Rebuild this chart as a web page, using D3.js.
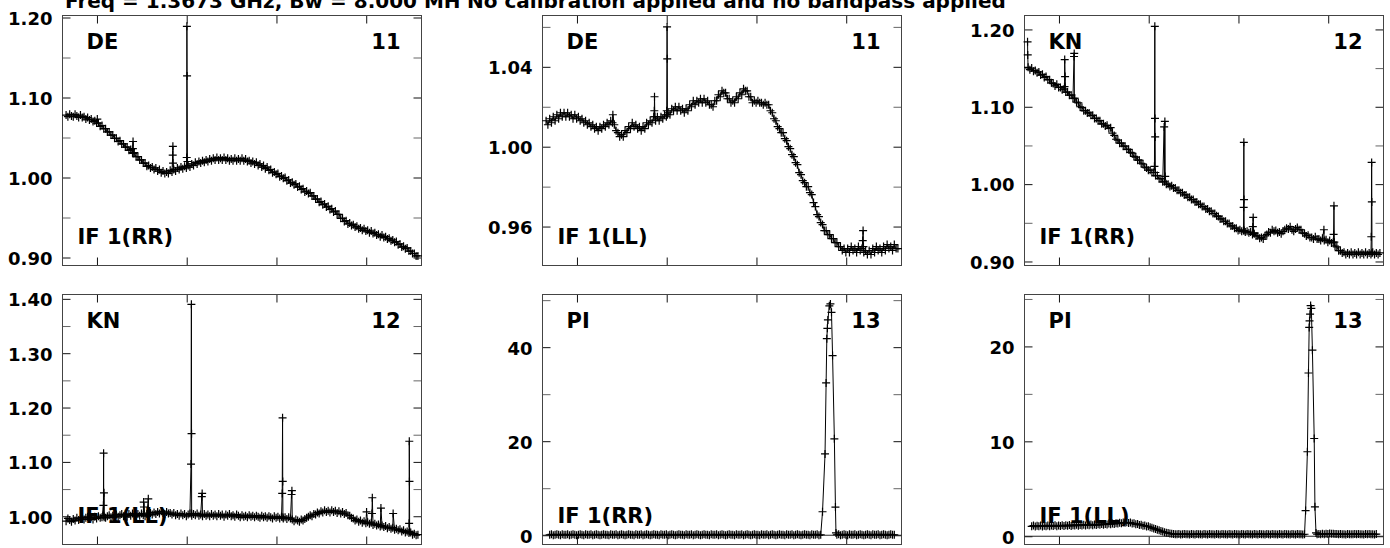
<!DOCTYPE html>
<html lang="en">
<head>
<meta charset="UTF-8">
<title>Spectra: DE, KN, PI</title>
<script src="https://d3js.org/d3.v7.min.js"></script>
<style>
  body { margin: 0; background: #fff; }
  svg text { font-family: "DejaVu Sans", sans-serif; font-weight: bold; fill: #000; }
</style>
</head>
<body>
<div id="chart"></div>
<script>
// ---- values ----
const titleLeft = "Freq = 1.3673 GHz, Bw = 8.000 MH";
const titleRight = "No calibration applied and no bandpass applied";

// unlabeled channel ticks (channel axis runs 0..100)
const xTicks = [9.6, 34.6, 59.6, 84.6];

// amplitude per channel 1, 1.5, 2 ... 99 (null = no point)
const chStart = 1, chStep = 0.5;

const deRR = [
  1.078,1.076,1.079,1.077,1.076,1.079,1.077,1.075,1.078,1.075,1.076,1.073,1.075,1.072,1.073,1.070,1.071,1.068,1.068,1.064,
  1.065,1.061,1.061,1.057,1.057,1.053,1.053,1.049,1.049,1.045,1.046,1.042,1.042,1.038,1.038,1.034,1.035,1.031,1.031,1.026,
  1.026,1.022,1.022,1.018,1.018,1.014,1.015,1.012,1.013,1.010,1.012,1.008,1.010,1.006,1.008,1.005,1.007,1.005,1.009,1.007,
  1.010,1.008,1.012,1.010,1.013,1.011,1.014,1.012,1.015,1.013,1.017,1.015,1.019,1.017,1.020,1.018,1.021,1.019,1.022,1.020,
  1.023,1.021,1.024,1.022,1.025,1.022,1.024,1.022,1.025,1.022,1.024,1.021,1.023,1.021,1.024,1.021,1.023,1.021,1.024,1.021,
  1.023,1.020,1.021,1.018,1.020,1.017,1.019,1.015,1.017,1.013,1.015,1.011,1.013,1.009,1.010,1.006,1.007,1.004,1.005,1.001,
  1.002,0.999,1.000,0.996,0.997,0.993,0.994,0.991,0.992,0.988,0.989,0.985,0.986,0.982,0.983,0.980,0.981,0.977,0.977,0.973,
  0.973,0.969,0.970,0.966,0.967,0.963,0.964,0.960,0.961,0.957,0.958,0.954,0.954,0.949,0.949,0.945,0.946,0.942,0.943,0.940,
  0.941,0.938,0.939,0.936,0.937,0.934,0.936,0.933,0.934,0.931,0.933,0.930,0.931,0.928,0.929,0.926,0.928,0.925,0.926,0.923,
  0.924,0.921,0.922,0.919,0.920,0.916,0.917,0.913,0.914,0.911,0.912,0.908,0.908,0.905,0.905,0.902,0.902
];
const deRRSpikes = [[9.7,1.073],[19.6,1.036],[19.65,1.045],[19.7,1.030],[30.7,1.028],[30.75,1.039],[30.8,1.018],
  [34.6,1.025],[34.65,1.189],[34.7,1.127],[34.8,1.020]];

const deLL = [
  1.013,1.011,1.014,1.012,1.015,1.013,1.016,1.014,1.017,1.015,1.017,1.015,1.017,1.015,1.016,1.014,1.016,1.014,1.015,1.013,
  1.014,1.012,1.013,1.011,1.012,1.010,1.011,1.009,1.010,1.008,1.010,1.009,1.011,1.010,1.012,1.011,1.013,1.012,1.011,1.008,
  1.007,1.005,1.006,1.005,1.008,1.007,1.010,1.009,1.012,1.010,1.011,1.009,1.010,1.008,1.010,1.009,1.012,1.011,1.013,1.012,
  1.015,1.013,1.015,1.013,1.015,1.014,1.016,1.015,1.017,1.016,1.019,1.018,1.020,1.018,1.020,1.018,1.019,1.017,1.019,1.018,
  1.021,1.020,1.023,1.021,1.023,1.022,1.024,1.022,1.024,1.022,1.023,1.021,1.021,1.020,1.023,1.023,1.026,1.025,1.028,1.027,
  1.027,1.024,1.024,1.022,1.023,1.022,1.025,1.024,1.027,1.026,1.029,1.028,1.028,1.025,1.025,1.022,1.023,1.022,1.023,1.022,
  1.022,1.021,1.022,1.021,1.021,1.018,1.017,1.014,1.013,1.010,1.009,1.007,1.007,1.004,1.003,1.000,0.999,0.996,0.995,0.992,
  0.991,0.987,0.986,0.983,0.982,0.980,0.980,0.977,0.976,0.972,0.970,0.966,0.965,0.962,0.961,0.958,0.958,0.956,0.956,0.954,
  0.954,0.952,0.952,0.950,0.950,0.948,0.949,0.947,0.949,0.947,0.950,0.948,0.949,0.947,0.950,0.948,0.949,0.947,0.948,0.946,
  0.948,0.946,0.949,0.947,0.950,0.948,0.949,0.947,0.950,0.948,0.951,0.949,0.950,0.948,0.951,0.949,0.949
];
const deLLSpikes = [[19.6,1.016],[31.15,1.018],[31.2,1.025],[31.3,1.015],[34.6,1.018],[34.7,1.060],[34.75,1.044],
  [34.8,1.016],[89.2,0.953],[89.3,0.958],[89.4,0.950]];

const knRR = [
  1.151,1.148,1.150,1.146,1.147,1.144,1.145,1.141,1.142,1.138,1.139,1.135,1.135,1.131,1.130,1.127,1.129,1.125,1.125,1.122,
  1.123,1.119,1.119,1.115,1.115,1.111,1.111,1.106,1.105,1.100,1.099,1.095,1.095,1.092,1.092,1.089,1.089,1.085,1.085,1.082,
  1.082,1.078,1.078,1.075,1.076,1.072,1.073,1.066,1.063,1.058,1.057,1.053,1.053,1.049,1.049,1.045,1.045,1.041,1.040,1.036,
  1.035,1.031,1.031,1.027,1.026,1.022,1.021,1.018,1.018,1.015,1.015,1.011,1.011,1.007,1.007,1.003,1.003,1.000,1.000,0.997,
  0.998,0.995,0.995,0.992,0.992,0.989,0.989,0.986,0.986,0.983,0.983,0.980,0.980,0.977,0.977,0.974,0.974,0.971,0.971,0.968,
  0.968,0.965,0.965,0.962,0.962,0.959,0.958,0.955,0.955,0.952,0.952,0.949,0.949,0.946,0.946,0.943,0.943,0.940,0.941,0.939,
  0.940,0.938,0.939,0.937,0.938,0.935,0.936,0.933,0.933,0.930,0.931,0.929,0.933,0.935,0.938,0.937,0.941,0.939,0.940,0.937,
  0.938,0.936,0.939,0.941,0.943,0.942,0.945,0.941,0.939,0.942,0.944,0.941,0.941,0.937,0.936,0.933,0.934,0.931,0.931,0.929,
  0.932,0.929,0.929,0.927,0.930,0.927,0.928,0.925,0.927,0.924,0.925,0.920,0.919,0.914,0.914,0.911,0.912,0.909,0.911,0.909,
  0.912,0.909,0.911,0.909,0.912,0.909,0.911,0.909,0.912,0.909,0.911,0.909,0.912,0.909,0.911,0.909,0.911
];
const knRRSpikes = [[0.85,1.184],[0.9,1.167],[11.15,1.126],[11.2,1.161],[11.3,1.139],[13.8,1.165],[13.85,1.169],
  [13.9,1.111],[36.2,1.023],[36.3,1.204],[36.35,1.085],[36.4,1.061],[36.45,1.015],[38.9,1.074],[39.1,1.081],
  [39.2,1.010],[61.05,0.970],[61.1,1.054],[61.15,0.980],[61.2,0.940],[63.6,0.945],[63.7,0.957],[63.8,0.937],
  [83.4,0.941],[86.1,0.935],[86.2,0.972],[86.3,0.925],[96.6,0.932],[96.7,1.028],[96.75,0.977],[96.8,0.911]];

const knLL = [
  0.991,0.996,0.993,0.990,0.995,0.992,0.997,0.993,0.995,0.998,0.994,0.997,0.999,0.995,0.998,0.994,0.999,0.996,1.000,0.997,
  0.998,1.001,0.997,1.000,1.002,0.998,1.001,0.999,1.003,0.999,1.002,1.004,1.000,1.003,0.999,1.004,1.001,1.005,1.002,1.000,
  1.004,1.001,1.005,1.002,1.000,1.004,1.002,1.006,1.003,1.007,1.004,1.008,1.005,1.009,1.006,1.004,1.008,1.005,1.006,1.003,
  1.006,1.002,1.004,1.001,1.005,1.002,1.004,1.000,1.003,1.005,1.001,1.004,1.002,1.005,1.001,1.003,1.000,1.004,1.001,1.003,
  1.000,1.004,1.001,1.003,1.000,1.004,1.001,1.003,0.999,1.003,1.001,1.004,1.000,1.002,0.999,1.003,1.001,0.998,1.002,0.999,
  1.001,0.998,1.002,0.999,1.001,0.998,1.001,0.999,0.997,1.001,0.998,1.000,0.997,1.000,0.998,0.996,1.000,0.997,0.999,0.996,
  0.999,0.996,0.998,0.995,0.998,0.996,0.994,0.991,0.994,0.992,0.990,0.994,0.992,0.995,0.997,0.999,1.002,1.000,1.004,1.003,
  1.007,1.005,1.009,1.007,1.011,1.008,1.010,1.007,1.011,1.008,1.010,1.006,1.009,1.005,1.008,1.004,1.006,1.002,1.001,0.997,
  0.996,0.992,0.994,0.990,0.992,0.988,0.991,0.987,0.989,0.986,0.988,0.984,0.986,0.983,0.985,0.981,0.983,0.980,0.982,0.978,
  0.980,0.977,0.979,0.975,0.977,0.974,0.976,0.972,0.974,0.970,0.972,0.969,0.970,0.966,0.968,0.965,0.966
];
const knLLSpikes = [[11.4,1.020],[11.45,1.116],[11.55,1.043],[11.6,0.998],[22.6,1.026],[22.7,1.017],[23.9,1.032],
  [35.8,1.096],[35.9,1.390],[35.95,1.152],[35.97,1.005],[38.8,1.036],[38.9,1.042],[61.2,1.042],[61.3,1.181],
  [61.35,1.064],[61.4,0.998],[63.8,1.040],[63.9,1.047],[84.7,1.008],[86.2,1.005],[86.3,1.034],[88.7,1.015],
  [92.1,1.005],[96.55,0.987],[96.6,1.138],[96.65,1.064],[96.7,0.972]];

const piRR = [
  null,null,0.1,0.2,0.0,0.1,0.2,0.1,0.0,0.2,0.1,0.1,0.2,0.0,0.1,0.2,0.1,0.0,0.1,0.2,
  0.1,0.0,0.2,0.1,0.1,0.2,0.0,0.1,0.2,0.1,0.0,0.1,0.2,0.1,0.1,0.0,0.2,0.1,0.1,0.2,
  0.0,0.1,0.2,0.1,0.0,0.1,0.2,0.1,0.1,0.0,0.2,0.1,0.1,0.2,0.0,0.1,0.2,0.1,0.0,0.1,
  0.2,0.1,0.1,0.0,0.2,0.1,0.1,0.2,0.0,0.1,0.2,0.1,0.0,0.1,0.2,0.1,0.1,0.0,0.2,0.1,
  0.1,0.2,0.0,0.1,0.2,0.1,0.0,0.1,0.2,0.1,0.1,0.0,0.2,0.1,0.1,0.2,0.0,0.1,0.2,0.1,
  0.0,0.1,0.2,0.1,0.1,0.0,0.2,0.1,0.1,0.2,0.0,0.1,0.2,0.1,0.0,0.1,0.2,0.1,0.1,0.0,
  0.2,0.1,0.1,0.2,0.0,0.1,0.2,0.1,0.0,0.1,0.2,0.1,0.1,0.0,0.2,0.1,0.1,0.2,0.0,0.1,
  0.2,0.1,0.0,0.1,0.2,0.1,0.1,0.0,0.2,0.1,0.1,0.2,0.0,0.1,null,null,null,null,null,null,
  null,null,0.1,0.2,0.0,0.1,0.2,0.1,0.0,0.2,0.1,0.1,0.2,0.0,0.1,0.2,0.1,0.0,0.1,0.2,
  0.1,0.0,0.2,0.1,0.1,0.2,0.0,0.1,0.2,0.1,0.0,0.1,0.2,0.1,0.1,null,null
];
const piRRPeak = [[78.0,5.0],[78.7,17.3],[79.0,32.4],[79.2,41.8],[79.35,44.0],[79.5,45.8],[79.9,48.8],
  [80.2,49.2],[80.5,47.4],[80.8,38.2],[81.3,20.5],[81.6,6.0],[81.75,0.5]];

const piLL = [
  null,null,1.05,1.12,1.02,1.10,1.04,1.13,1.03,1.11,1.06,1.14,1.04,1.12,1.07,1.15,1.05,1.13,1.08,1.16,
  1.07,1.15,1.10,1.18,1.09,1.17,1.12,1.20,1.11,1.19,1.14,1.22,1.13,1.21,1.16,1.25,1.15,1.23,1.18,1.27,
  1.20,1.28,1.22,1.30,1.24,1.33,1.27,1.35,1.30,1.38,1.33,1.41,1.37,1.45,1.42,1.47,1.39,1.44,1.33,1.37,
  1.26,1.30,1.19,1.22,1.11,1.13,1.03,1.05,0.95,0.89,0.82,0.75,0.68,0.62,0.55,0.49,0.42,0.38,0.33,0.29,
  0.26,0.23,0.22,0.20,0.23,0.19,0.21,0.24,0.20,0.22,0.18,0.23,0.21,0.19,0.24,0.20,0.22,0.18,0.23,0.21,
  0.19,0.24,0.20,0.22,0.18,0.23,0.21,0.19,0.24,0.20,0.22,0.18,0.23,0.21,0.19,0.24,0.20,0.22,0.18,0.23,
  0.21,0.19,0.24,0.20,0.22,0.18,0.23,0.21,0.19,0.24,0.20,0.22,0.18,0.23,0.21,0.19,0.24,0.20,0.22,0.18,
  0.23,0.21,0.19,0.24,0.20,0.22,0.18,0.23,0.21,0.19,0.24,0.20,0.22,0.18,0.21,null,null,null,null,null,
  null,0.21,0.23,0.20,0.25,0.21,0.27,0.24,0.29,0.25,0.27,0.23,0.24,0.21,0.23,0.20,0.22,0.19,0.23,0.21,
  0.22,0.20,0.24,0.21,0.23,0.20,0.22,0.19,0.23,0.21,0.24,0.20,0.22,0.19,0.23,null,null
];
const piLLPeak = [[78.3,2.7],[78.8,8.9],[79.1,17.2],[79.3,22.0],[79.4,22.7],[79.55,23.4],[79.7,24.3],
  [79.9,24.0],[80.2,19.6],[80.7,10.3],[80.9,3.1],[81.2,0.35]];

// y tick values per panel
const ticksDE_RR = { major: [0.90, 1.00, 1.10, 1.20], minor: [0.95, 1.05, 1.15] };
const ticksDE_LL = { major: [0.96, 1.00, 1.04], minor: [0.98, 1.02, 1.06] };
const ticksKN_RR = { major: [0.90, 1.00, 1.10, 1.20], minor: [0.95, 1.05, 1.15] };
const ticksKN_LL = { major: [1.00, 1.10, 1.20, 1.30, 1.40], minor: [1.05, 1.15, 1.25, 1.35] };
const ticksPI_RR = { major: [0, 20, 40], minor: [10, 30, 50] };
const ticksPI_LL = { major: [0, 10, 20], minor: [5, 15, 25] };

const panels = [
  { stn: "DE", ant: "11", pol: "IF 1(RR)", base: deRR, extra: deRRSpikes, y: [0.89, 1.2025], ticks: ticksDE_RR, fmt: ".2f" },
  { stn: "DE", ant: "11", pol: "IF 1(LL)", base: deLL, extra: deLLSpikes, y: [0.9405, 1.0657], ticks: ticksDE_LL, fmt: ".2f" },
  { stn: "KN", ant: "12", pol: "IF 1(RR)", base: knRR, extra: knRRSpikes, y: [0.8948, 1.218], ticks: ticksKN_RR, fmt: ".2f" },
  { stn: "KN", ant: "12", pol: "IF 1(LL)", base: knLL, extra: knLLSpikes, y: [0.948, 1.408], ticks: ticksKN_LL, fmt: ".2f" },
  { stn: "PI", ant: "13", pol: "IF 1(RR)", base: piRR, extra: piRRPeak, y: [-1.97, 51.2], ticks: ticksPI_RR, fmt: "d" },
  { stn: "PI", ant: "13", pol: "IF 1(LL)", base: piLL, extra: piLLPeak, y: [-0.87, 25.47], ticks: ticksPI_LL, fmt: "d" }
];

// ---- layout ----
const W = 1390, H = 548;
const colX = [62.5, 542.5, 1024.5], rowY = [15.5, 294.5];
const pw = 359, ph = 250;

const svg = d3.select("#chart").append("svg").attr("width", W).attr("height", H);

svg.append("text").attr("x", 65).attr("y", 8).attr("font-size", 20).text(titleLeft);
svg.append("text").attr("x", 467).attr("y", 8).attr("font-size", 20).text(titleRight);

const cross = "M-4,0H4M0,-4V4";

panels.forEach((p, i) => {
  const g = svg.append("g")
    .attr("transform", `translate(${colX[i % 3]},${rowY[Math.floor(i / 3)]})`);

  const x = d3.scaleLinear().domain([0, 100]).range([0, pw]);
  const y = d3.scaleLinear().domain(p.y).range([ph, 0]);

  // labels go under the data
  g.append("text").attr("x", 24).attr("y", 33.5).attr("font-size", 21).text(p.stn);
  g.append("text").attr("x", pw - 21).attr("y", 33.5).attr("font-size", 21)
    .attr("text-anchor", "end").text(p.ant);
  g.append("text").attr("x", 15).attr("y", ph - 21.5).attr("font-size", 21).text(p.pol);

  // left major ticks with labels
  const left = g.append("g")
    .call(d3.axisLeft(y).tickValues(p.ticks.major).tickSize(-8).tickPadding(10)
      .tickFormat(d3.format(p.fmt)));
  left.attr("font-size", 18).attr("color", "#111");
  left.selectAll("text").attr("dy", "0.38em");

  const blank = () => "";
  const axes = [
    g.append("g").call(d3.axisLeft(y).tickValues(p.ticks.minor).tickSize(-8).tickFormat(blank)).attr("color", "#666"),
    g.append("g").attr("transform", `translate(${pw},0)`)
      .call(d3.axisRight(y).tickValues(p.ticks.major).tickSize(-8).tickFormat(blank)).attr("color", "#111"),
    g.append("g").attr("transform", `translate(${pw},0)`)
      .call(d3.axisRight(y).tickValues(p.ticks.minor).tickSize(-8).tickFormat(blank)).attr("color", "#666"),
    g.append("g").attr("transform", `translate(0,${ph})`)
      .call(d3.axisBottom(x).tickValues(xTicks).tickSize(-8).tickFormat(blank)).attr("color", "#111"),
    g.append("g").call(d3.axisTop(x).tickValues(xTicks).tickSize(-8).tickFormat(blank)).attr("color", "#111")
  ];
  left.select(".domain").remove();
  axes.forEach(a => a.select(".domain").remove());

  // frame
  g.append("rect").attr("width", pw).attr("height", ph)
    .attr("fill", "none").attr("stroke", "#444").attr("stroke-width", 1);

  // zero line when the range holds zero
  if (p.y[0] < 0 && p.y[1] > 0) {
    g.append("line").attr("x1", 0).attr("x2", pw)
      .attr("y1", y(0)).attr("y2", y(0)).attr("stroke", "#222");
  }

  const pts = p.base.map((v, k) => ({ c: chStart + k * chStep, v }))
    .filter(d => d.v !== null)
    .concat(p.extra.map(([c, v]) => ({ c, v })))
    .sort((a, b) => a.c - b.c);

  g.append("path").datum(pts)
    .attr("fill", "none").attr("stroke", "#000").attr("stroke-width", 1)
    .attr("d", d3.line().x(d => x(d.c)).y(d => y(d.v)));

  g.append("g").selectAll("path").data(pts).join("path")
    .attr("transform", d => `translate(${x(d.c)},${y(d.v)})`)
    .attr("d", cross)
    .attr("stroke", "#000").attr("stroke-width", 1.2).attr("fill", "none");
});
</script>
</body>
</html>
